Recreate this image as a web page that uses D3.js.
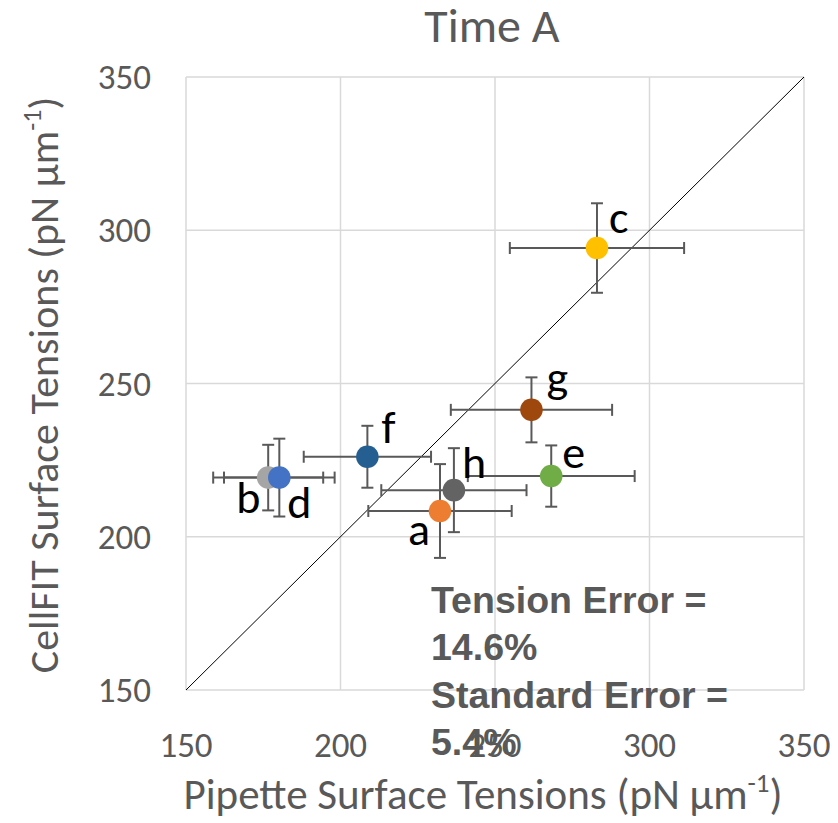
<!DOCTYPE html>
<html><head><meta charset="utf-8">
<script src="https://cdn.jsdelivr.net/npm/d3@7"></script>
<style>body{margin:0;background:#fff}</style>
</head><body>
<svg id="c" width="838" height="823"></svg>
<script>
const labels = ["a","b","c","d","e","f","g","h"];
const pipette = [232.2,176.6,283.0,180.2,268.2,208.7,261.8,236.7];
const cellfit = [208.4,219.3,294.2,219.3,219.8,226.1,241.4,215.2];
const xErr = [23.2,17.8,28.2,17.9,27.0,20.6,26.1,23.5];
const yErr = [15.3,10.7,14.6,12.7,10.0,10.1,10.6,13.7];
const colors = ["#ED7D31","#A5A5A5","#FFC000","#4472C4","#70AD47","#255E91","#9E480E","#636363"];
const ticks = [150,200,250,300,350];
const notes = ["Tension Error =","14.6%","Standard Error =","5.4%"];

const svg = d3.select("#c");
const x = d3.scaleLinear().domain([150,350]).range([186,804]);
const y = d3.scaleLinear().domain([150,350]).range([690,77]);
const font = "Carlito, 'Liberation Sans Narrow', 'Open Sans', sans-serif";

// gridlines
svg.append("g").selectAll("line").data(ticks).join("line")
  .attr("x1",d=>x(d)).attr("x2",d=>x(d)).attr("y1",y(150)).attr("y2",y(350))
  .attr("stroke","#D9D9D9").attr("stroke-width",1.5);
svg.append("g").selectAll("line").data(ticks).join("line")
  .attr("y1",d=>y(d)).attr("y2",d=>y(d)).attr("x1",x(150)).attr("x2",x(350))
  .attr("stroke","#D9D9D9").attr("stroke-width",1.5);

// tick labels
svg.append("g").selectAll("text").data(ticks).join("text")
  .attr("x",d=>x(d)).attr("y",757).attr("text-anchor","middle")
  .attr("font-family",font).attr("font-size",35).attr("fill","#595959").text(d=>d);
svg.append("g").selectAll("text").data(ticks).join("text")
  .attr("x",151).attr("y",d=>y(d)+12).attr("text-anchor","end")
  .attr("font-family",font).attr("font-size",35).attr("fill","#595959").text(d=>d);

// diagonal
svg.append("line").attr("x1",x(150)).attr("y1",y(150)).attr("x2",x(350)).attr("y2",y(350))
  .attr("stroke","#000").attr("stroke-width",1);

// error bars
const eb = svg.append("g").attr("stroke","#595959").attr("stroke-width",2);
const cap = 6;
labels.forEach((l,i)=>{
  const cx = x(pipette[i]), cy = y(cellfit[i]);
  const x0 = x(pipette[i]-xErr[i]), x1 = x(pipette[i]+xErr[i]);
  const y0 = y(cellfit[i]-yErr[i]), y1 = y(cellfit[i]+yErr[i]);
  eb.append("line").attr("x1",x0).attr("x2",x1).attr("y1",cy).attr("y2",cy);
  eb.append("line").attr("x1",x0).attr("x2",x0).attr("y1",cy-cap).attr("y2",cy+cap);
  eb.append("line").attr("x1",x1).attr("x2",x1).attr("y1",cy-cap).attr("y2",cy+cap);
  eb.append("line").attr("x1",cx).attr("x2",cx).attr("y1",y0).attr("y2",y1);
  eb.append("line").attr("x1",cx-cap).attr("x2",cx+cap).attr("y1",y0).attr("y2",y0);
  eb.append("line").attr("x1",cx-cap).attr("x2",cx+cap).attr("y1",y1).attr("y2",y1);
});

// points
svg.append("g").selectAll("circle").data(labels).join("circle")
  .attr("cx",(d,i)=>x(pipette[i])).attr("cy",(d,i)=>y(cellfit[i])).attr("r",11.3)
  .attr("fill",(d,i)=>colors[i]);

// point labels
const off = {a:[-32,34],b:[-32,35],c:[12,-15],d:[8,40],e:[11,-8],f:[14,-14],g:[15,-17],h:[8,-12]};
svg.append("g").selectAll("text").data(labels).join("text")
  .attr("x",(d,i)=>x(pipette[i])+off[d][0]).attr("y",(d,i)=>y(cellfit[i])+off[d][1])
  .attr("font-family",font).attr("font-size",46).attr("fill","#000").text(d=>d);

// title
svg.append("text").attr("x",492).attr("y",42).attr("text-anchor","middle")
  .attr("font-family",font).attr("font-size",48).attr("fill","#595959").text("Time A");

// axis titles
const xt = svg.append("text").attr("x",483).attr("y",809).attr("text-anchor","middle")
  .attr("font-family",font).attr("font-size",43).attr("fill","#595959");
xt.append("tspan").text("Pipette Surface Tensions (pN µm");
xt.append("tspan").attr("font-size",27).attr("dy",-17).text("-1");
xt.append("tspan").attr("dy",17).text(")");
const yt = svg.append("text").attr("transform","translate(58,385) rotate(-90)").attr("text-anchor","middle")
  .attr("font-family",font).attr("font-size",42).attr("fill","#595959");
yt.append("tspan").text("CellFIT Surface Tensions (pN µm");
yt.append("tspan").attr("font-size",26).attr("dy",-17).text("-1");
yt.append("tspan").attr("dy",17).text(")");

// annotation
svg.append("g").selectAll("text").data(notes).join("text")
  .attr("x",431).attr("y",(d,i)=>613+i*47.3)
  .attr("font-family","'Liberation Sans', Arial, sans-serif").attr("font-weight","bold")
  .attr("font-size",37.5).attr("fill","#595959").text(d=>d);
</script>
</body></html>
